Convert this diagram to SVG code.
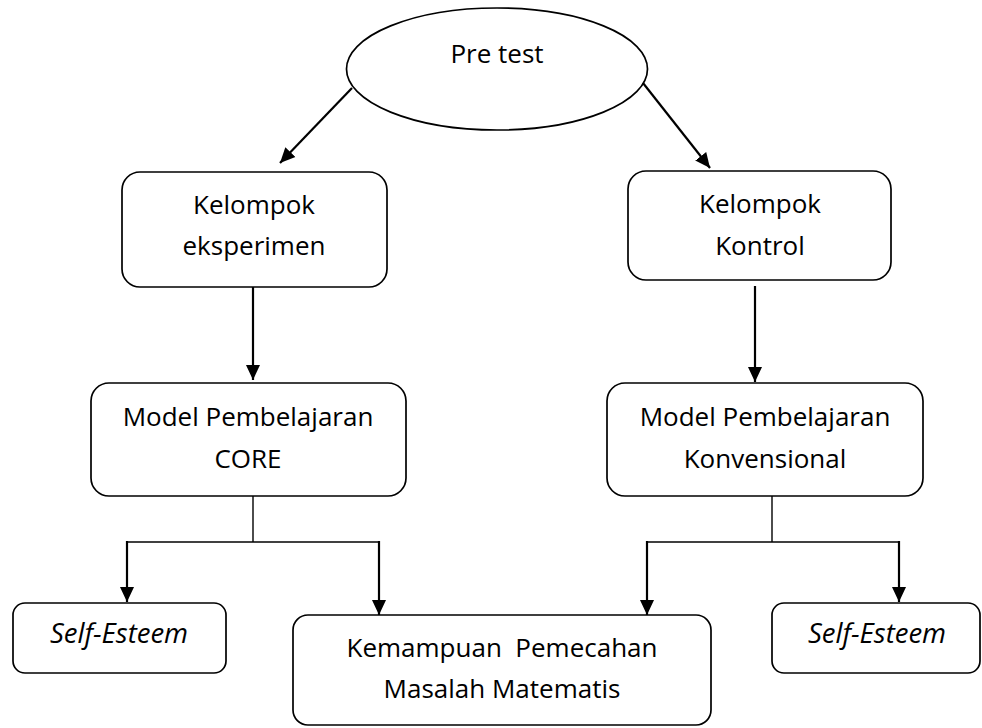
<svg xmlns="http://www.w3.org/2000/svg" width="982" height="728" viewBox="0 0 982 728">
<defs>
<style>
.box{fill:#fff;stroke:#000;stroke-width:1.7}
.t{font-family:"Open Sans","Noto Sans","Liberation Sans",sans-serif;font-size:26px;fill:#000;text-anchor:middle}
.i{font-style:italic;font-size:27.5px}
.c{fill:none;stroke:#000;stroke-width:2.2}
.b{fill:none;stroke:#000;stroke-width:1.4}
</style>
<marker id="ah" markerUnits="userSpaceOnUse" markerWidth="18" markerHeight="18" viewBox="0 0 18 18" refX="15" refY="9" orient="auto">
<path d="M0,2 L15,9 L0,16 Z" fill="#000"/>
</marker>
</defs>
<rect width="982" height="728" fill="#fff"/>
<g id="pretest">
<ellipse class="box" cx="497" cy="69" rx="150.5" ry="61"/>
<text class="t" x="497" y="63">Pre test</text>
</g>
<g id="kelompok-eksperimen">
<rect class="box" x="122" y="172" width="265" height="115" rx="18"/>
<text class="t" x="254" y="214">Kelompok</text>
<text class="t" x="254" y="255">eksperimen</text>
</g>
<g id="kelompok-kontrol">
<rect class="box" x="628" y="171" width="263" height="109" rx="18"/>
<text class="t" x="760" y="213">Kelompok</text>
<text class="t" x="760" y="255">Kontrol</text>
</g>
<g id="model-core">
<rect class="box" x="91" y="383" width="315" height="113" rx="18"/>
<text class="t" x="248" y="426">Model Pembelajaran</text>
<text class="t" x="248" y="468">CORE</text>
</g>
<g id="model-konvensional">
<rect class="box" x="607" y="383" width="316" height="113" rx="18"/>
<text class="t" x="765" y="426">Model Pembelajaran</text>
<text class="t" x="765" y="468">Konvensional</text>
</g>
<g id="self-esteem-1">
<rect class="box" x="13" y="603" width="213" height="70" rx="12"/>
<text class="t i" x="119" y="643">Self-Esteem</text>
</g>
<g id="kemampuan">
<rect class="box" x="293" y="615" width="418" height="110" rx="15"/>
<text class="t" x="502" y="657" xml:space="preserve">Kemampuan  Pemecahan</text>
<text class="t" x="502" y="698">Masalah Matematis</text>
</g>
<g id="self-esteem-2">
<rect class="box" x="772" y="603" width="208" height="70" rx="12"/>
<text class="t i" x="877" y="643">Self-Esteem</text>
</g>
<g id="connectors">
<line class="c" x1="352" y1="88" x2="280" y2="163" marker-end="url(#ah)"/>
<line class="c" x1="643" y1="83" x2="710" y2="168" marker-end="url(#ah)"/>
<line class="c" x1="253" y1="287" x2="253" y2="380" marker-end="url(#ah)"/>
<line class="c" x1="755" y1="286" x2="755" y2="382" marker-end="url(#ah)"/>
<polyline class="b" points="253,496 253,542"/>
<polyline class="b" points="127,542 379,542"/>
<line class="c" x1="127" y1="541" x2="127" y2="602" marker-end="url(#ah)"/>
<line class="c" x1="379" y1="541" x2="379" y2="615" marker-end="url(#ah)"/>
<polyline class="b" points="772,496 772,542"/>
<polyline class="b" points="647,542 899,542"/>
<line class="c" x1="647" y1="541" x2="647" y2="615" marker-end="url(#ah)"/>
<line class="c" x1="899" y1="541" x2="899" y2="602" marker-end="url(#ah)"/>
</g>
</svg>
